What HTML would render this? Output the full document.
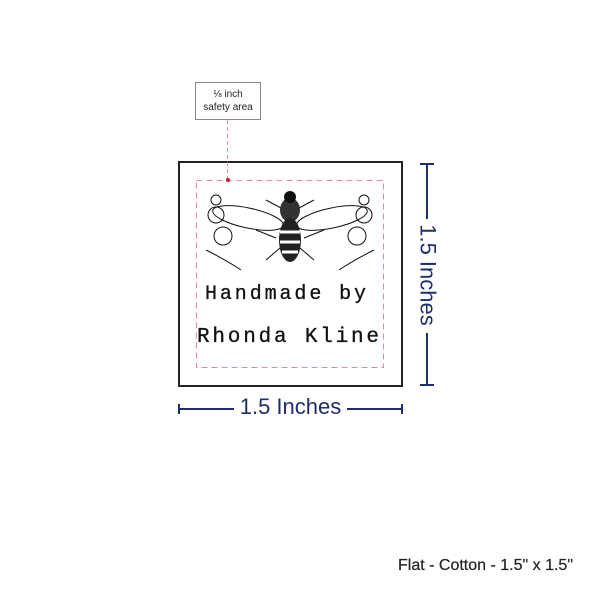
<!DOCTYPE html>
<html><head><style>
body{margin:0;width:600px;height:600px;background:#fff;position:relative;overflow:hidden;font-family:"Liberation Sans",sans-serif}
.a{position:absolute}
</style></head><body>
<div class="a" style="left:195px;top:82px;width:66px;height:38px;border:1px solid #888;box-sizing:border-box;font-size:10px;line-height:13px;text-align:center;color:#222;padding-top:5px">⅛ inch<br>safety area</div>
<div class="a" style="left:178px;top:161px;width:225px;height:226px;border:2px solid #222;box-sizing:border-box"></div>
<svg class="a" style="left:0;top:0" width="600" height="600">
<rect x="196.5" y="180.5" width="187" height="187" fill="none" stroke="#e88a98" stroke-width="1" stroke-dasharray="6 4"/>
<line x1="227.5" y1="120" x2="227.5" y2="180" stroke="#e88a98" stroke-dasharray="4 3"/>
<circle cx="228" cy="180" r="2" fill="#c0203a"/>
</svg>
<svg class="a" style="left:196px;top:180px" width="188" height="100" viewBox="0 0 188 100">
<g stroke="#111" fill="none" stroke-width="1">
<ellipse cx="52" cy="38" rx="36" ry="10" transform="rotate(12 52 38)"/>
<ellipse cx="136" cy="38" rx="36" ry="10" transform="rotate(-12 136 38)"/>
<path d="M70 20 L85 28 M118 20 L103 28 M60 50 L80 58 M128 50 L108 58 M70 80 L84 68 M118 80 L104 68"/>
<circle cx="20" cy="35" r="8"/><circle cx="27" cy="56" r="9"/><circle cx="20" cy="20" r="5"/>
<circle cx="168" cy="35" r="8"/><circle cx="161" cy="56" r="9"/><circle cx="168" cy="20" r="5"/>
<path d="M10 70 Q30 80 45 90 M178 70 Q158 80 143 90"/>
</g>
<ellipse cx="94" cy="30" rx="10" ry="12" fill="#333"/>
<circle cx="94" cy="17" r="6" fill="#111"/>
<ellipse cx="94" cy="60" rx="11" ry="22" fill="#222"/>
<path d="M84 52h20M84 62h20M86 72h16" stroke="#fff" stroke-width="3"/>
</svg>
<div class="a" style="left:205px;top:283px;font-family:'Liberation Mono',monospace;font-size:20px;letter-spacing:2.9px;color:#111;-webkit-text-stroke:0.3px #111">Handmade by</div>
<div class="a" style="left:197px;top:326px;font-family:'Liberation Mono',monospace;font-size:21px;letter-spacing:2.8px;color:#111;-webkit-text-stroke:0.3px #111">Rhonda Kline</div>
<div class="a" style="left:178px;top:404px;height:10px;border-left:2px solid #1f2d6b"></div>
<div class="a" style="left:401px;top:404px;height:10px;border-left:2px solid #1f2d6b"></div>
<div class="a" style="left:178px;top:408px;width:56px;border-top:2px solid #1f2d6b"></div>
<div class="a" style="left:347px;top:408px;width:55px;border-top:2px solid #1f2d6b"></div>
<div class="a" style="left:232px;top:394px;width:117px;text-align:center;font-size:22px;color:#1f2d6b">1.5 Inches</div>
<div class="a" style="left:420px;top:163px;width:14px;border-top:2px solid #1f2d6b"></div>
<div class="a" style="left:420px;top:384px;width:14px;border-top:2px solid #1f2d6b"></div>
<div class="a" style="left:426px;top:163px;height:56px;border-left:2px solid #1f2d6b"></div>
<div class="a" style="left:426px;top:333px;height:52px;border-left:2px solid #1f2d6b"></div>
<div class="a" style="left:369px;top:262px;width:117px;text-align:center;font-size:22px;color:#1f2d6b;transform:rotate(90deg)">1.5 Inches</div>
<div class="a" style="right:27px;top:557px;font-size:16px;color:#222;-webkit-text-stroke:0.2px #222">Flat - Cotton - 1.5" x 1.5"</div>
</body></html>
